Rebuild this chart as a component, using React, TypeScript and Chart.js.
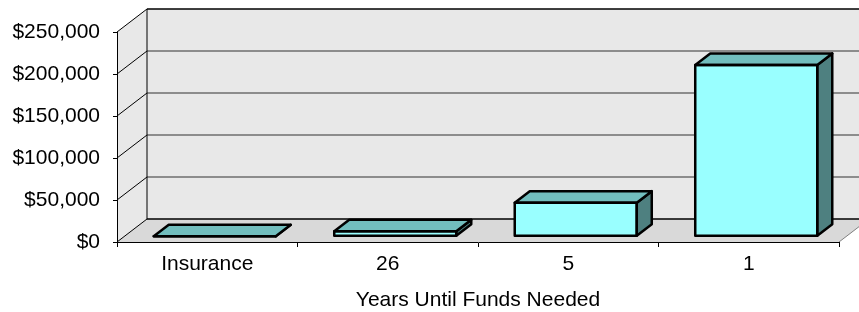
import React, { useEffect, useRef } from "react";
import { Chart, registerables } from "chart.js";

Chart.register(...registerables);

const categories: string[] = ["Insurance", "26", "5", "1"];
const fundsNeeded: number[] = [0, 6000, 40000, 204000];
const yMin = 0;
const yMax = 250000;
const yStep = 50000;
const xTitle = "Years Until Funds Needed";

const DX = 30;
const DY = -23;
const FONT = "'Liberation Sans', Arial, Helvetica, sans-serif";

function poly(ctx: CanvasRenderingContext2D, pts: number[][]) {
  ctx.beginPath();
  ctx.moveTo(pts[0][0], pts[0][1]);
  for (let i = 1; i < pts.length; i++) ctx.lineTo(pts[i][0], pts[i][1]);
  ctx.closePath();
}

const wallsPlugin = {
  id: "walls3d",
  beforeDraw(chart: any) {
    const { ctx, chartArea: a, scales } = chart;
    const y = scales.y;
    const L = a.left, R = a.right, T = a.top, B = a.bottom;
    ctx.save();
    // back wall
    ctx.fillStyle = "#E8E8E8";
    ctx.fillRect(L + DX, T + DY, R - L + 40, B - T);
    // left wall
    poly(ctx, [[L, T], [L + DX, T + DY], [L + DX, B + DY], [L, B]]);
    ctx.fill();
    // floor
    ctx.fillStyle = "#D9D9D9";
    poly(ctx, [[L, B], [R, B], [R + DX, B + DY], [L + DX, B + DY]]);
    ctx.fill();
    // back wall gridlines
    ctx.lineWidth = 1.3;
    y.ticks.forEach((t: any) => {
      const py = y.getPixelForValue(t.value);
      const isEdge = t.value === yMin || t.value === yMax;
      ctx.strokeStyle = isEdge ? "#000000" : "#6E6E6E";
      ctx.beginPath();
      ctx.moveTo(L + DX, py + DY);
      ctx.lineTo(R + DX + 40, py + DY);
      ctx.stroke();
      // diagonal on left wall
      ctx.strokeStyle = "#000000";
      ctx.lineWidth = 1;
      ctx.beginPath();
      ctx.moveTo(L, py);
      ctx.lineTo(L + DX, py + DY);
      ctx.stroke();
      ctx.lineWidth = 1.3;
    });
    // back wall left edge
    ctx.strokeStyle = "#000000";
    ctx.lineWidth = 1;
    ctx.beginPath();
    ctx.moveTo(L + DX, T + DY);
    ctx.lineTo(L + DX, B + DY);
    ctx.stroke();
    // right floor edge
    ctx.strokeStyle = "#808080";
    ctx.beginPath();
    ctx.moveTo(R, B);
    ctx.lineTo(R + DX, B + DY);
    ctx.stroke();
    ctx.restore();
  },
  beforeDatasetsDraw(chart: any) {
    const ctx = chart.ctx;
    ctx.save();
    ctx.translate(DX / 4, DY / 4);
  },
  afterDatasetsDraw(chart: any) {
    const ctx = chart.ctx;
    const meta = chart.getDatasetMeta(0);
    const bx = DX / 2;
    const by = DY / 2;
    ctx.lineWidth = 2.5;
    ctx.lineJoin = "round";
    ctx.strokeStyle = "#000000";
    meta.data.forEach((el: any) => {
      const p = el.getProps(["x", "y", "base", "width"], true);
      const l = p.x - p.width / 2;
      const r = p.x + p.width / 2;
      const top = Math.min(p.y, p.base);
      const bot = Math.max(p.y, p.base);
      // side face
      ctx.fillStyle = "#4E8080";
      poly(ctx, [[r, top], [r + bx, top + by], [r + bx, bot + by], [r, bot]]);
      ctx.fill();
      ctx.stroke();
      // top face
      ctx.fillStyle = "#72BEBE";
      poly(ctx, [[l, top], [r, top], [r + bx, top + by], [l + bx, top + by]]);
      ctx.fill();
      ctx.stroke();
      // front outline
      poly(ctx, [[l, top], [r, top], [r, bot], [l, bot]]);
      ctx.stroke();
    });
    ctx.restore();
  },
};

export default function App() {
  const ref = useRef<HTMLCanvasElement>(null);
  useEffect(() => {
    const chart = new Chart(ref.current as HTMLCanvasElement, {
      type: "bar",
      data: {
        labels: categories,
        datasets: [
          {
            data: fundsNeeded,
            backgroundColor: "#99FFFF",
            borderWidth: 0,
            categoryPercentage: 1,
            barPercentage: 0.676,
            clip: false as any,
          },
        ],
      },
      options: {
        responsive: false,
        animation: false,
        devicePixelRatio: 1,
        layout: { padding: { top: 32, right: 20, left: 0, bottom: 0 } },
        plugins: {
          legend: { display: false },
          tooltip: { enabled: false },
        },
        scales: {
          x: {
            grid: {
              display: true,
              drawOnChartArea: false,
              drawTicks: true,
              tickLength: 5,
              color: "#000000",
              offset: true,
            },
            border: { display: true, color: "#000000", width: 1 },
            ticks: {
              color: "#000000",
              padding: 5,
              font: { family: FONT, size: 21 },
              maxRotation: 0,
            },
            title: {
              display: true,
              text: xTitle,
              color: "#000000",
              font: { family: FONT, size: 21 },
              padding: { top: 0, bottom: -1 },
            },
            afterFit(s: any) {
              s.height = 70;
            },
          },
          y: {
            min: yMin,
            max: yMax,
            grid: {
              display: true,
              drawOnChartArea: false,
              drawTicks: true,
              tickLength: 4,
              color: "#000000",
            },
            border: { display: true, color: "#000000", width: 1 },
            ticks: {
              stepSize: yStep,
              color: "#000000",
              padding: 13,
              font: { family: FONT, size: 21 },
              callback: (v: any) => "$" + Number(v).toLocaleString("en-US"),
            },
            afterFit(s: any) {
              s.width = 117;
            },
          },
        },
      },
      plugins: [wallsPlugin],
    });
    return () => chart.destroy();
  }, []);
  return (
    <div style={{ position: "fixed", left: 0, top: 0, width: 859, height: 312, background: "#ffffff" }}>
      <canvas ref={ref} width={859} height={312} style={{ display: "block" }} />
    </div>
  );
}
